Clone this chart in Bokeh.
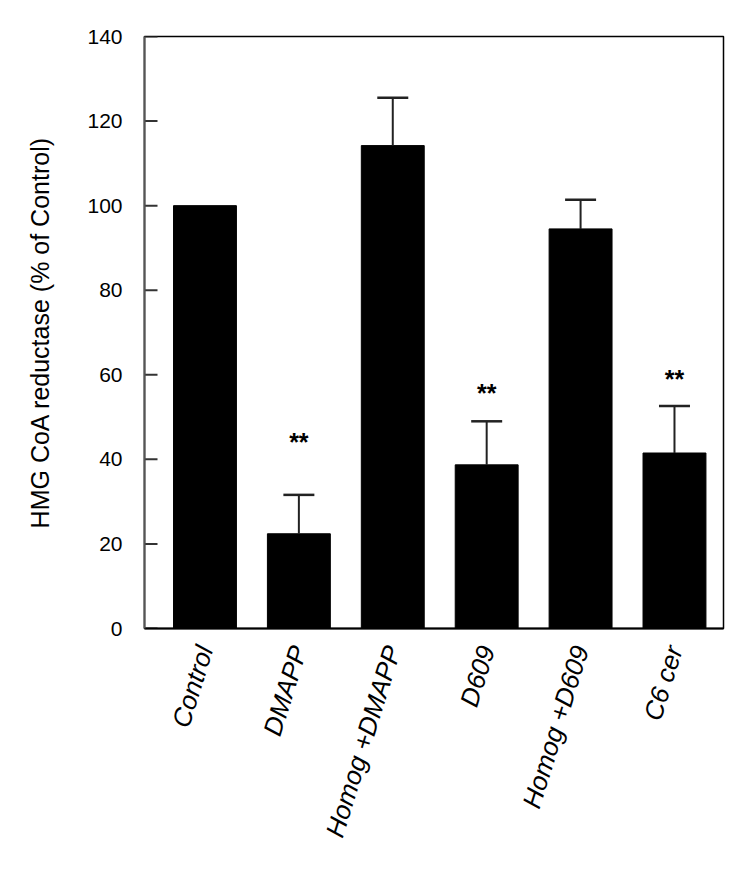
from bokeh.plotting import figure
from bokeh.models import Range1d, FixedTicker, ColumnDataSource
from bokeh.embed import file_html
from bokeh.resources import INLINE
from bokeh.core.properties import value

# ---- data ----
categories = ["Control", "DMAPP", "Homog +DMAPP", "D609", "Homog +D609", "C6 cer"]
means = [100.0, 22.4, 114.2, 38.7, 94.5, 41.5]
errors = [0.0, 9.2, 11.3, 10.3, 6.9, 11.1]
sig_labels = ["", "**", "", "**", "", "**"]
sig_heights = [None, 44.0, None, 55.8, None, 58.9]
y_ticks = [0, 20, 40, 60, 80, 100, 120, 140]

xs = list(range(1, len(categories) + 1))
FONT = "Liberation Sans"

x_range = Range1d(0.356, 6.522)
p = figure(width=734, height=860, output_backend="svg", toolbar_location=None,
           x_range=x_range, y_range=Range1d(0, 140),
           min_border_left=144, min_border_top=36, min_border_right=11,
           min_border_bottom=232)
p.background_fill_color = "white"
p.border_fill_color = "white"
p.outline_line_color = "black"
p.outline_line_width = 1.5
p.xgrid.visible = False
p.ygrid.visible = False

bars = ColumnDataSource(dict(x=xs, top=means))
p.vbar(x="x", top="top", width=0.67, source=bars, fill_color="black", line_color="black")

# error bars (upward only)
ex = [x for x, e in zip(xs, errors) if e > 0]
elo = [m for m, e in zip(means, errors) if e > 0]
ehi = [m + e for m, e in zip(means, errors) if e > 0]
p.segment(x0=ex, y0=elo, x1=ex, y1=ehi, line_color="#222222", line_width=2)
p.segment(x0=[x - 0.165 for x in ex], y0=ehi, x1=[x + 0.165 for x in ex], y1=ehi,
          line_color="#222222", line_width=2.5)

# inward y ticks (half of a centred dash lies inside the frame)
p.scatter(x=[x_range.start] * len(y_ticks), y=y_ticks, marker="dash", size=26,
          line_color="#333333", line_width=2)

# significance markers
sx = [x for x, s in zip(xs, sig_labels) if s]
sy = [h for h, s in zip(sig_heights, sig_labels) if s]
st = [s for s in sig_labels if s]
p.text(x=sx, y=sy, text=st, text_align="center", text_baseline="middle",
       text_font=value(FONT), text_font_size="25px", text_font_style="bold",
       text_color="black")

# y axis
p.yaxis.ticker = FixedTicker(ticks=y_ticks)
p.yaxis.axis_label = "HMG CoA reductase (% of Control)"
p.yaxis.axis_label_text_font = FONT
p.yaxis.axis_label_text_font_size = "25px"
p.yaxis.axis_label_text_font_style = "normal"
p.yaxis.axis_label_text_color = "black"
p.yaxis.axis_label_standoff = 30
p.yaxis.major_label_text_font = FONT
p.yaxis.major_label_text_font_size = "21px"
p.yaxis.major_label_text_color = "black"
p.yaxis.major_label_standoff = 22
p.yaxis.major_tick_in = 0
p.yaxis.major_tick_out = 0
p.yaxis.minor_tick_line_color = None
p.yaxis.axis_line_color = "#555555"
p.yaxis.axis_line_width = 2
p.yaxis.major_tick_line_color = None

# x axis
p.xaxis.ticker = FixedTicker(ticks=xs)
p.xaxis.major_label_overrides = {x: c for x, c in zip(xs, categories)}
p.xaxis.major_label_orientation = 1.27
p.xaxis.major_label_text_font = FONT
p.xaxis.major_label_text_font_size = "26px"
p.xaxis.major_label_text_font_style = "italic"
p.xaxis.major_label_text_color = "black"
p.xaxis.major_label_standoff = 12
p.xaxis.major_tick_line_color = None
p.xaxis.minor_tick_line_color = None
p.xaxis.axis_line_color = "black"
p.xaxis.axis_line_width = 2

open("out.html", "w").write(file_html(p, INLINE))
